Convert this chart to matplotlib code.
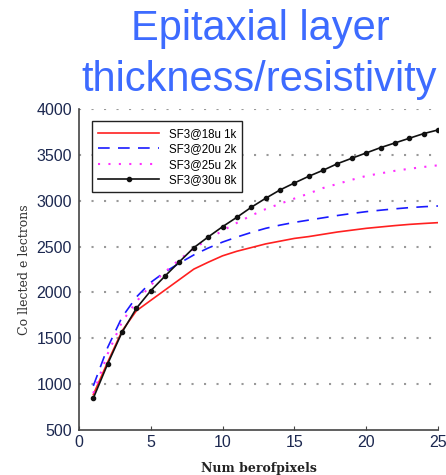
import numpy as np
import matplotlib.pyplot as plt

# Collected electrons vs number of pixels for each epi layer option
pixels = list(range(1, 26))

# 18u / 1k: only sampled at 1-4 and from 8 on
pixels_18u = [1, 2, 3, 4] + list(range(8, 26))
sf3_18u_1k = [885, 1240, 1580, 1800, 2255, 2330, 2400, 2450, 2490, 2530, 2560,
              2590, 2610, 2635, 2660, 2680, 2700, 2715, 2730, 2743, 2753, 2762]
sf3_20u_2k = [980, 1400, 1730, 1950, 2110, 2225, 2320, 2410, 2485, 2550, 2605,
              2655, 2700, 2735, 2765, 2790, 2815, 2840, 2862, 2882, 2898, 2913,
              2926, 2936, 2944]
sf3_25u_2k = [900, 1330, 1680, 1900, 2080, 2225, 2360, 2480, 2580, 2675, 2760,
              2840, 2910, 2968, 3025, 3080, 3140, 3185, 3230, 3272, 3300, 3328,
              3350, 3370, 3388]
sf3_30u_8k = [845, 1220, 1565, 1827, 2019, 2180, 2336, 2489, 2606, 2718, 2821,
              2930, 3028, 3119, 3195, 3268, 3334, 3406, 3465, 3523, 3581, 3632,
              3683, 3734, 3774]

labels = ['SF3@18u 1k', 'SF3@20u 2k', 'SF3@25u 2k', 'SF3@30u 8k']
xticks = [0, 5, 10, 15, 20, 25]
yticks = [500, 1000, 1500, 2000, 2500, 3000, 3500, 4000]

plt.rcParams['font.family'] = ['Liberation Sans', 'DejaVu Sans']

fig = plt.figure(figsize=(4.46, 4.75), dpi=100)
ax = fig.add_axes([0.177, 0.095, 0.805, 0.675])

ax.plot(pixels_18u, sf3_18u_1k, color='#ff2020', lw=1.2, label=labels[0])
ax.plot(pixels, sf3_20u_2k, color='#1a1aff', lw=1.2, ls=(0, (7, 5)), label=labels[1])
ax.plot(pixels, sf3_25u_2k, color='#ff30ff', lw=1.5, ls=(0, (1, 4)), label=labels[2])
ax.plot(pixels, sf3_30u_8k, color='#111111', lw=1.2, marker='o', ms=3,
        label=labels[3])

ax.set_xlim(0, 25)
ax.set_ylim(500, 4000)
ax.set_xticks(xticks)
ax.set_yticks(yticks)

# dotted horizontal grid only
for y in yticks[1:]:
    ax.axhline(y, color='#999999', lw=1.5, ls=(0, (1, 5)), zorder=0)

for side in ['top', 'right']:
    ax.spines[side].set_visible(False)
for side in ['left', 'bottom']:
    ax.spines[side].set_color('#444444')
    ax.spines[side].set_linewidth(1.2)

ax.tick_params(axis='x', direction='in', length=3, color='#444444',
               labelsize=11.5, labelcolor='#1c2850', pad=4)
ax.tick_params(axis='y', length=0, labelsize=11.5, labelcolor='#1c2850', pad=5)

ax.set_xlabel('Num berofpixels', family='DejaVu Serif', fontsize=9,
              fontweight='bold', color='#222222', labelpad=8)
ax.set_ylabel('Co llected e lectrons', family='DejaVu Serif', fontsize=9,
              color='#333333', labelpad=4)

leg = ax.legend(loc='upper left', bbox_to_anchor=(0.02, 0.98), fontsize=8.3,
                handlelength=5.3, fancybox=False, framealpha=1,
                edgecolor='#222222', borderpad=0.55, labelspacing=0.3)
leg.get_frame().set_linewidth(1.0)

# two-line title, each line placed on its own baseline
title_color = '#3d6bff'
fig.text(0.583, 1 - 40 / 475, 'Epitaxial layer', ha='center', va='baseline',
         fontsize=30, color=title_color)
fig.text(0.581, 1 - 91 / 475, 'thickness/resistivity', ha='center',
         va='baseline', fontsize=30, color=title_color)

fig.savefig('out.png', dpi=100)
